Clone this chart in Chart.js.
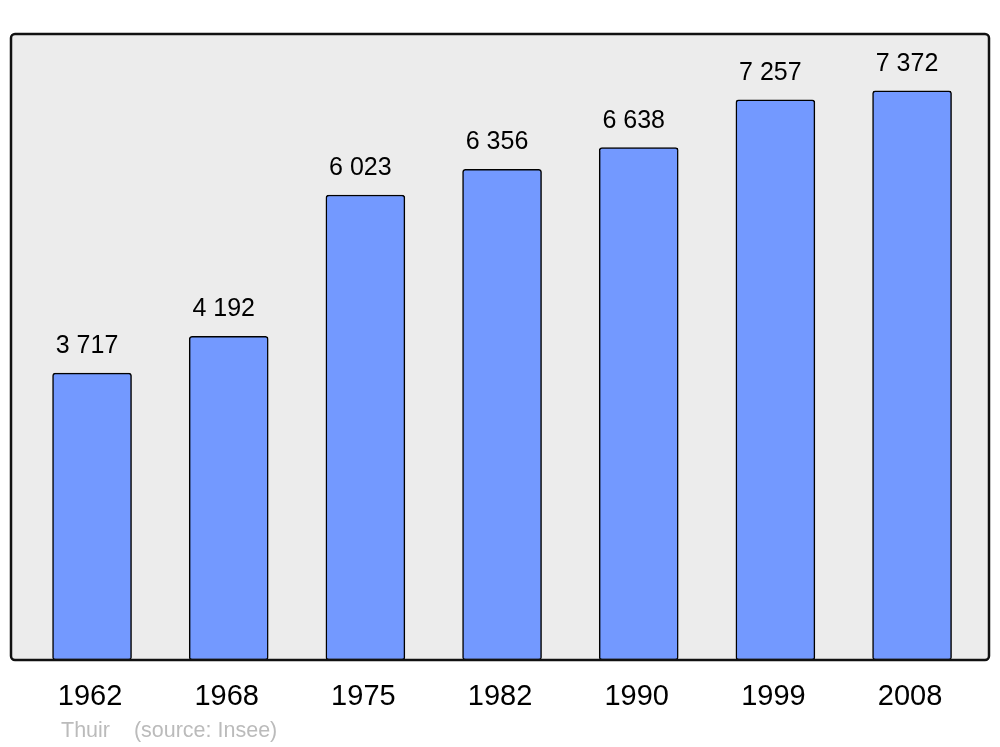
<!DOCTYPE html>
<html>
<head>
<meta charset="utf-8">
<script src="https://cdn.jsdelivr.net/npm/chart.js@4"></script>
<style>
html,body{margin:0;padding:0;background:#fff;}
#wrap{width:1000px;height:747px;position:relative;}
</style>
</head>
<body>
<div id="wrap"><canvas id="c" width="1000" height="747"></canvas></div>
<script>
const years = ['1962', '1968', '1975', '1982', '1990', '1999', '2008'];
const population = [3717, 4192, 6023, 6356, 6638, 7257, 7372];
const sourceText = 'Thuir    (source: Insee)';

function fmt(v) {
  return String(v).replace(/\B(?=(\d{3})+(?!\d))/g, ' ');
}

const framePlugin = {
  id: 'frame',
  beforeDraw(chart) {
    const {ctx, chartArea: a} = chart;
    ctx.save();
    ctx.beginPath();
    ctx.roundRect(a.left, a.top, a.right - a.left, a.bottom - a.top, 4);
    ctx.fillStyle = '#ececec';
    ctx.fill();
    ctx.restore();
  },
  afterDatasetsDraw(chart) {
    const {ctx, chartArea: a} = chart;
    const meta = chart.getDatasetMeta(0);
    ctx.save();
    ctx.font = '25px "Liberation Sans", Arial, sans-serif';
    ctx.fillStyle = '#000';
    ctx.textAlign = 'center';
    ctx.textBaseline = 'alphabetic';
    meta.data.forEach((el, i) => {
      ctx.fillText(fmt(population[i]), el.x - 5, el.y - 20);
    });
    ctx.beginPath();
    ctx.roundRect(a.left, a.top, a.right - a.left, a.bottom - a.top, 4);
    ctx.lineWidth = 2.5;
    ctx.strokeStyle = '#111';
    ctx.stroke();
    ctx.font = '21.5px "Liberation Sans", Arial, sans-serif';
    ctx.fillStyle = '#bbbbbb';
    ctx.textAlign = 'left';
    ctx.fillText(sourceText, 61, 737);
    ctx.restore();
  }
};

new Chart(document.getElementById('c'), {
  type: 'bar',
  data: {
    datasets: [{
      data: population.map((v, i) => ({x: i, y: v})),
      backgroundColor: '#7399ff',
      borderColor: '#000',
      borderWidth: 1.5,
      borderRadius: 3,
      borderSkipped: false,
      barThickness: 79
    }]
  },
  options: {
    responsive: false,
    animation: false,
    devicePixelRatio: 1,
    layout: {padding: {left: 11, right: 11, top: 34, bottom: 0}},
    plugins: {legend: {display: false}, tooltip: {enabled: false}},
    scales: {
      x: {
        type: 'linear',
        min: -0.593,
        max: 6.563,
        offset: false,
        grid: {display: false, drawTicks: false},
        border: {display: false},
        afterBuildTicks(scale) { scale.ticks = years.map((_, i) => ({value: i})); },
        afterFit(scale) { scale.height = 87; },
        ticks: {
          autoSkip: false,
          maxRotation: 0,
          padding: 20,
          labelOffset: -2,
          color: '#000',
          font: {family: '"Liberation Sans", Arial, sans-serif', size: 29},
          callback: (v) => years[v] !== undefined ? years[v] : ''
        }
      },
      y: {
        display: false,
        min: 0,
        max: 8109
      }
    }
  },
  plugins: [framePlugin]
});
</script>
</body>
</html>
